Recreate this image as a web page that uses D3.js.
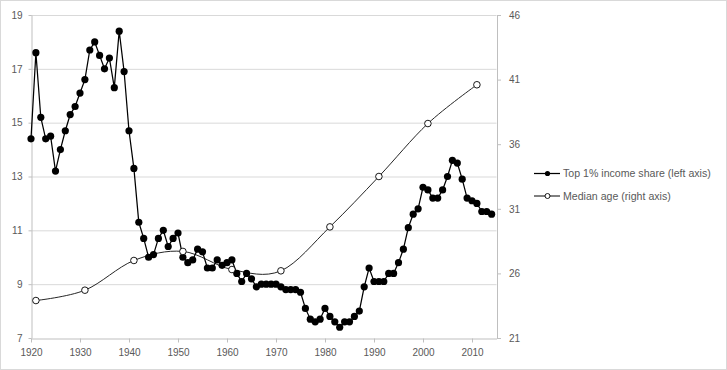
<!DOCTYPE html>
<html><head><meta charset="utf-8">
<script src="https://cdn.jsdelivr.net/npm/d3@7"></script>
<style>body{margin:0;background:#fff}svg{display:block}text{font-family:"Liberation Sans",Arial,sans-serif}</style>
</head><body><svg id="c" width="727" height="370"></svg>
<script>
const incomeYears = d3.range(1920, 2015);
const incomeShare = [14.4,17.6,15.2,14.4,14.5,13.2,14.0,14.7,15.3,15.6,
16.1,16.6,17.7,18.0,17.5,17.0,17.4,16.3,18.4,16.9,
14.7,13.3,11.3,10.7,10.0,10.1,10.7,11.0,10.4,10.7,
10.9,10.0,9.8,9.9,10.3,10.2,9.6,9.6,9.9,9.7,
9.8,9.9,9.4,9.1,9.4,9.2,8.9,9.0,9.0,9.0,
9.0,8.9,8.8,8.8,8.8,8.7,8.1,7.7,7.6,7.7,
8.1,7.8,7.6,7.4,7.6,7.6,7.8,8.0,8.9,9.6,
9.1,9.1,9.1,9.4,9.4,9.8,10.3,11.1,11.6,11.8,
12.6,12.5,12.2,12.2,12.5,13.0,13.6,13.5,12.9,12.2,
12.1,12.0,11.7,11.7,11.6];
const ageYears = [1921,1931,1941,1951,1961,1971,1981,1991,2001,2011];
const medianAge = [23.9,24.7,27.0,27.7,26.3,26.2,29.6,33.5,37.6,40.6];
const xTicks = [1920,1930,1940,1950,1960,1970,1980,1990,2000,2010];
const leftTicks = [7,9,11,13,15,17,19];
const rightTicks = [21,26,31,36,41,46];
const legendLabels = ["Top 1% income share (left axis)","Median age (right axis)"];

const svg = d3.select("#c");
const L = 31, R = 496.5, T = 15, B = 338;
const x = d3.scaleLinear().domain([1920, 2015]).range([L, R]);
const yL = d3.scaleLinear().domain([7, 19]).range([B, T]);
const yR = d3.scaleLinear().domain([21, 46]).range([B, T]);
const grey = "#595959", axisC = "#bfbfbf", gridC = "#d9d9d9";

svg.append("rect").attr("x",0.5).attr("y",0.5).attr("width",726).attr("height",369)
  .attr("fill","#fff").attr("stroke",gridC);

// gridlines
svg.append("g").selectAll("line").data(leftTicks.filter(d=>d>7)).join("line")
  .attr("x1",L).attr("x2",R).attr("y1",d=>yL(d)+0.5).attr("y2",d=>yL(d)+0.5)
  .attr("stroke",gridC);

function styleAxis(g){
  g.select(".domain").attr("stroke",axisC);
  g.selectAll(".tick line").attr("stroke",axisC);
  g.selectAll(".tick text").attr("fill",grey).attr("font-size",10);
}
svg.append("g").attr("transform",`translate(${L+0.5},0)`)
  .call(d3.axisLeft(yL).tickValues(leftTicks).tickSize(3).tickSizeOuter(0).tickPadding(6))
  .call(styleAxis);
svg.append("g").attr("transform",`translate(${R+0.5},0)`)
  .call(d3.axisRight(yR).tickValues(rightTicks).tickSize(4).tickSizeOuter(0).tickPadding(8))
  .call(styleAxis);
svg.append("g").attr("transform",`translate(0,${B+0.5})`)
  .call(d3.axisBottom(x).tickValues(xTicks).tickFormat(d3.format("d")).tickSize(4).tickSizeOuter(0).tickPadding(6))
  .call(styleAxis);

const inc = incomeYears.map((y,i)=>[y,incomeShare[i]]);
const age = ageYears.map((y,i)=>[y,medianAge[i]]);

svg.append("path").datum(age).attr("fill","none").attr("stroke","#262626").attr("stroke-width",1)
  .attr("d", d3.line().x(d=>x(d[0])).y(d=>yR(d[1])).curve(d3.curveCatmullRom.alpha(0)));
svg.append("path").datum(inc).attr("fill","none").attr("stroke","#000").attr("stroke-width",1.25)
  .attr("d", d3.line().x(d=>x(d[0])).y(d=>yL(d[1])));
svg.append("g").selectAll("circle").data(inc).join("circle")
  .attr("cx",d=>x(d[0])).attr("cy",d=>yL(d[1])).attr("r",3.6).attr("fill","#000");
svg.append("g").selectAll("circle").data(age).join("circle")
  .attr("cx",d=>x(d[0])).attr("cy",d=>yR(d[1])).attr("r",3.3).attr("fill","#fff").attr("stroke","#000").attr("stroke-width",0.9);

// legend
const lg = svg.append("g");
legendLabels.forEach((t,i)=>{
  const yy = 173.5 + i*22.5;
  lg.append("line").attr("x1",534).attr("x2",560).attr("y1",yy).attr("y2",yy).attr("stroke","#000").attr("stroke-width",i?1:1.25);
  if(i===0) lg.append("circle").attr("cx",547.5).attr("cy",yy).attr("r",2.6).attr("fill","#000");
  else lg.append("circle").attr("cx",547.5).attr("cy",yy).attr("r",2.5).attr("fill","#fff").attr("stroke","#000").attr("stroke-width",0.9);
  lg.append("text").attr("x",563).attr("y",yy).attr("dy","0.35em").attr("font-size",10.6).attr("fill",grey).text(t);
});
</script></body></html>
